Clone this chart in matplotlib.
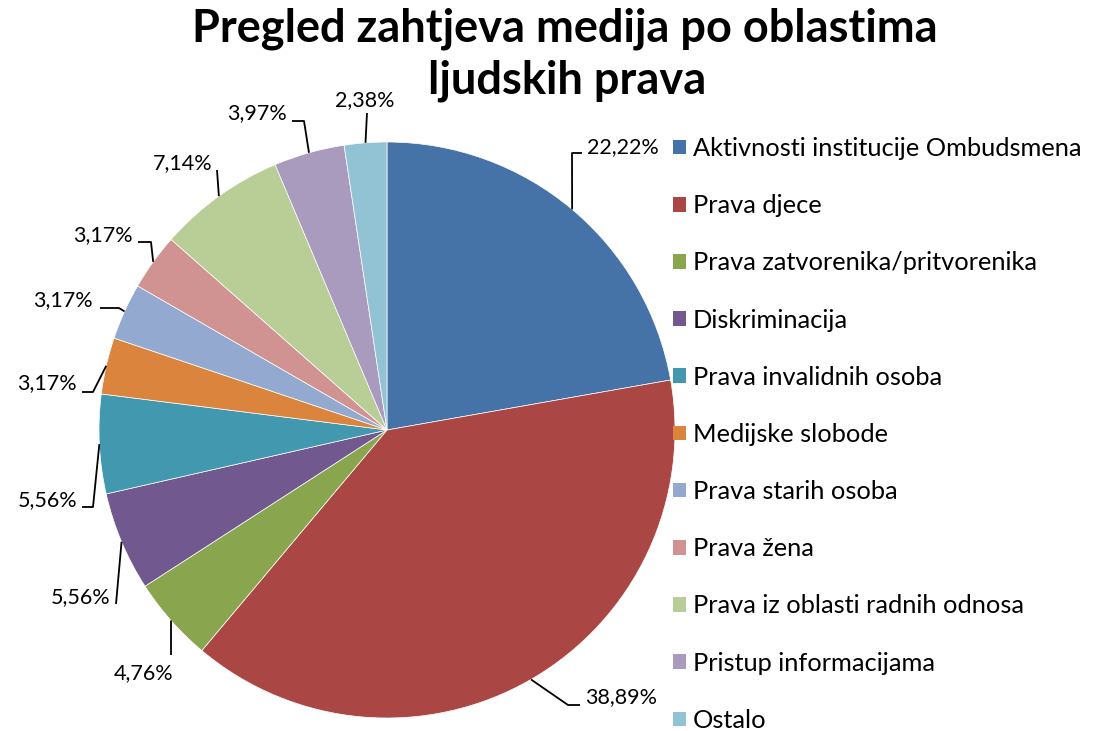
import numpy as np
import matplotlib
matplotlib.use("Agg")
import matplotlib.pyplot as plt

# ---- data ----
categories = [
    "Aktivnosti institucije Ombudsmena",
    "Prava djece",
    "Prava zatvorenika/pritvorenika",
    "Diskriminacija",
    "Prava invalidnih osoba",
    "Medijske slobode",
    "Prava starih osoba",
    "Prava žena",
    "Prava iz oblasti radnih odnosa",
    "Pristup informacijama",
    "Ostalo",
]
values = [22.22, 38.89, 4.76, 5.56, 5.56, 3.17, 3.17, 3.17, 7.14, 3.97, 2.38]
value_labels = ["22,22%", "38,89%", "4,76%", "5,56%", "5,56%", "3,17%",
                "3,17%", "3,17%", "7,14%", "3,97%", "2,38%"]
title_lines = ["Pregled zahtjeva medija po oblastima", "ljudskih prava"]

# ---- style ----
colors = ["#4572A7", "#AA4643", "#89A54E", "#71588F", "#4198AF", "#DB843D",
          "#93A9CF", "#D19392", "#B9CD96", "#A99BBD", "#92C3D4"]
FONT = "Lato"
W, H = 1105, 731

# label layout in pixel coords (y from top): text (x, y, ha), leader elbow, tail
label_layout = [
    ((587, 147, "left"),   (572, 153), (582, 153)),
    ((585, 697, "left"),   (568, 705), (580, 705)),
    ((144, 673, "center"), (171, 655), (171, 655)),
    ((110, 597, "right"),  (116, 604), (116, 604)),
    ((77, 500, "right"),   (93, 507),  (82, 507)),
    ((77, 383, "right"),   (93, 392),  (82, 392)),
    ((93, 300, "right"),   (119, 308), (100, 308)),
    ((133, 235, "right"),  (151, 242), (138, 242)),
    ((212, 163, "right"),  (217, 170), (217, 170)),
    ((287, 113, "right"),  (304, 121), (292, 121)),
    ((365, 100, "center"), (367, 113), (367, 113)),
]

fig = plt.figure(figsize=(W / 100, H / 100), dpi=100)
ax = fig.add_axes([0, 0, 1, 1])

cx, cy, R = 387, H - 430, 288
wedges, _ = ax.pie(values, colors=colors, startangle=90, counterclock=False,
                   center=(cx, cy), radius=R,
                   wedgeprops=dict(edgecolor="white", linewidth=0.5))
ax.set_xlim(0, W)
ax.set_ylim(0, H)
ax.set_aspect("equal")
ax.axis("off")

def py(y):
    return H - y

for w, lab, (txt, elbow, tail) in zip(wedges, value_labels, label_layout):
    mid = np.deg2rad((w.theta1 + w.theta2) / 2)
    ax_x = cx + R * np.cos(mid)
    ax_y = cy + R * np.sin(mid)
    xs = [ax_x, elbow[0], tail[0]]
    ys = [ax_y, py(elbow[1]), py(tail[1])]
    ax.plot(xs, ys, color="black", lw=1.3, solid_capstyle="butt")
    tx, ty, ha = txt
    ax.text(tx, py(ty), lab, ha=ha, va="center", fontsize=15.5,
            family=FONT, color="black")

# title
ax.text(565, py(42), title_lines[0], ha="center", va="baseline",
        fontsize=32.5, fontweight="bold", family=FONT)
ax.text(567, py(93), title_lines[1], ha="center", va="baseline",
        fontsize=32.5, fontweight="bold", family=FONT)

fs = 18.3
fpx = fs * 100 / 72
leg = ax.legend(wedges, categories, loc="upper left",
                bbox_to_anchor=(673, py(137)), bbox_transform=ax.transData,
                frameon=False, borderpad=0, borderaxespad=0,
                handlelength=13 / fpx, handleheight=13 / fpx,
                handletextpad=7 / fpx, labelspacing=1.345,
                prop=dict(family=FONT, size=fs))
for h in leg.legend_handles:
    h.set_edgecolor("none")

fig.savefig("out.png", dpi=100)
